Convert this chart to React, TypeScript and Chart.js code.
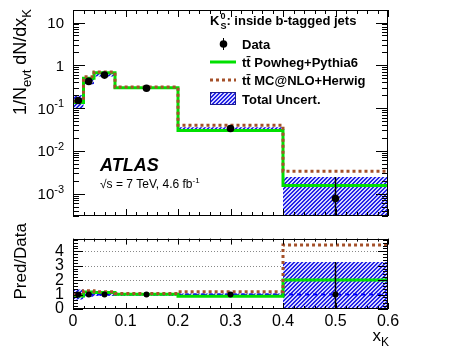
import React, { useEffect, useRef } from "react";
import { Chart, registerables } from "chart.js";

Chart.register(...registerables);

// ---------- data ----------
const edges = [0, 0.02, 0.04, 0.08, 0.2, 0.4, 0.6];
const dataX = [0.01, 0.03, 0.06, 0.14, 0.3, 0.5];
const dataY = [0.15, 0.42, 0.59, 0.29, 0.0333, 0.00077];
const dataErrLo = [0.13, 0.38, 0.56, 0.28, 0.031, 0.000001];
const dataErrHi = [0.17, 0.46, 0.62, 0.3, 0.036, 0.00246];
const uncertLo = [0.1, 0.36, 0.55, 0.28, 0.031, 0.000001];
const uncertHi = [0.2, 0.49, 0.63, 0.3, 0.0355, 0.00246];
const powheg = [0.135, 0.5, 0.67, 0.3, 0.03, 0.00155];
const mcnlo = [0.145, 0.54, 0.7, 0.31, 0.0398, 0.00335];

const ratioPowheg = [0.9, 1.17, 1.15, 1.02, 0.88, 2.01];
const ratioMcnlo = [0.98, 1.26, 1.2, 1.08, 1.2, 4.43];
const ratioUncLo = [0.65, 0.85, 0.92, 0.95, 0.93, 0];
const ratioUncHi = [1.35, 1.15, 1.08, 1.05, 1.07, 3.26];
const ratioData = [1, 1, 1, 1, 1, 1];
const ratioErrLo = [0.85, 0.9, 0.95, 0.97, 0.9, 0];
const ratioErrHi = [1.15, 1.1, 1.05, 1.03, 1.1, 3.26];

const logTickExps = [-3, -2, -1, 0, 1];
const ratioTicks = [0, 1, 2, 3, 4];

const FONT = '"Liberation Sans", Arial, Helvetica, sans-serif';
const GREEN = "#00e000";
const BROWN = "#a5512a";

// histogram step points: value of bin i held from edges[i] to edges[i+1]
const steps = (vals: number[]) =>
  edges.map((x, i) => ({ x, y: vals[Math.max(0, i - 1)] }));
const errPts = (xs: number[], lo: number[], hi: number[]) =>
  xs.flatMap((x, i) => [
    { x, y: lo[i] },
    { x, y: hi[i] },
    { x, y: null as any },
  ]);

// ---------- rich text ----------
type Part = { t: string; k?: "sub" | "sup" | "subsup"; t2?: string };
const fnt = (size: number, bold = false, italic = false) =>
  `${italic ? "italic " : ""}${bold ? "bold " : ""}${size}px ${FONT}`;

function richWidth(ctx: CanvasRenderingContext2D, parts: Part[], size: number, bold: boolean, italic: boolean) {
  let w = 0;
  const small = Math.round(size * 0.7);
  for (const p of parts) {
    if (!p.k) {
      ctx.font = fnt(size, bold, italic);
      w += ctx.measureText(p.t).width;
    } else if (p.k === "subsup") {
      ctx.font = fnt(small, bold, italic);
      w += Math.max(ctx.measureText(p.t).width, ctx.measureText(p.t2 || "").width) + 1;
    } else {
      ctx.font = fnt(small, bold, italic);
      w += ctx.measureText(p.t).width;
    }
  }
  return w;
}

function drawRich(
  ctx: CanvasRenderingContext2D,
  parts: Part[],
  x: number,
  y: number,
  size: number,
  align: "left" | "right" | "center" = "left",
  bold = false,
  italic = false
) {
  const w = richWidth(ctx, parts, size, bold, italic);
  let cx = align === "left" ? x : align === "right" ? x - w : x - w / 2;
  const small = Math.round(size * 0.7);
  ctx.textAlign = "left";
  ctx.textBaseline = "alphabetic";
  for (const p of parts) {
    if (!p.k) {
      ctx.font = fnt(size, bold, italic);
      ctx.fillText(p.t, cx, y);
      cx += ctx.measureText(p.t).width;
    } else if (p.k === "sub") {
      ctx.font = fnt(small, bold, italic);
      ctx.fillText(p.t, cx, y + size * 0.28);
      cx += ctx.measureText(p.t).width;
    } else if (p.k === "sup") {
      ctx.font = fnt(small, bold, italic);
      ctx.fillText(p.t, cx, y - size * 0.42);
      cx += ctx.measureText(p.t).width;
    } else {
      ctx.font = fnt(small, bold, italic);
      ctx.fillText(p.t, cx + 1, y + size * 0.3);
      ctx.fillText(p.t2 || "", cx + 1, y - size * 0.45);
      cx += Math.max(ctx.measureText(p.t).width, ctx.measureText(p.t2 || "").width) + 1;
    }
  }
}

function makePattern(): CanvasPattern | string {
  const c = document.createElement("canvas");
  c.width = 4;
  c.height = 4;
  const g = c.getContext("2d");
  if (!g) return "#7070f0";
  g.fillStyle = "#d4d4ff";
  g.fillRect(0, 0, 4, 4);
  g.fillStyle = "#2424e6";
  for (let i = 0; i < 4; i++) {
    g.fillRect((3 - i + 4) % 4, i, 1, 1);
    g.fillRect((4 - i + 4) % 4, i, 1, 1);
  }
  const ctx = document.createElement("canvas").getContext("2d")!;
  return ctx.createPattern(c, "repeat") || "#7070f0";
}

function drawXTicks(ctx: CanvasRenderingContext2D, chart: any, maj: number, min: number) {
  const a = chart.chartArea;
  const x = chart.scales.x;
  ctx.beginPath();
  for (let k = 0; k <= 30; k++) {
    const px = Math.round(x.getPixelForValue(k * 0.02)) + 0.5;
    const len = k % 5 === 0 ? maj : min;
    ctx.moveTo(px, a.bottom);
    ctx.lineTo(px, a.bottom - len);
    ctx.moveTo(px, a.top);
    ctx.lineTo(px, a.top + len);
  }
  ctx.stroke();
}

function drawFrame(ctx: CanvasRenderingContext2D, a: any) {
  ctx.strokeRect(Math.round(a.left) + 0.5, Math.round(a.top) + 0.5, Math.round(a.right - a.left) - 1, Math.round(a.bottom - a.top) - 1);
}

const upperDeco = {
  id: "upperDeco",
  afterDraw(chart: any) {
    const ctx: CanvasRenderingContext2D = chart.ctx;
    const a = chart.chartArea;
    const y = chart.scales.y;
    ctx.save();
    ctx.strokeStyle = "#000";
    ctx.fillStyle = "#000";
    ctx.lineWidth = 1;
    drawFrame(ctx, a);
    drawXTicks(ctx, chart, 7, 4);
    // log y ticks
    ctx.beginPath();
    for (let e = -4; e <= 1; e++) {
      for (let m = 1; m <= 9; m++) {
        const v = m * Math.pow(10, e);
        if (v < y.min || v > y.max) continue;
        const py = Math.round(y.getPixelForValue(v)) + 0.5;
        const len = m === 1 ? 12 : 6;
        ctx.moveTo(a.left, py);
        ctx.lineTo(a.left + len, py);
        ctx.moveTo(a.right, py);
        ctx.lineTo(a.right - len, py);
      }
    }
    ctx.stroke();
    // log labels
    for (const e of logTickExps) {
      const py = y.getPixelForValue(Math.pow(10, e));
      const parts: Part[] =
        e === 0 ? [{ t: "1" }] : e === 1 ? [{ t: "10" }] : [{ t: "10" }, { t: String(e), k: "sup" }];
      drawRich(ctx, parts, 64, py + 5.5, 15, "right");
    }
    // y title
    ctx.save();
    ctx.translate(26, 9);
    ctx.rotate(-Math.PI / 2);
    drawRich(ctx, [{ t: "1/N" }, { t: "evt", k: "sub" }, { t: " dN/dx" }, { t: "K", k: "sub" }], 0, 0, 18, "right");
    ctx.restore();
    // ATLAS label
    drawRich(ctx, [{ t: "ATLAS" }], 100, 171, 18, "left", true, true);
    drawRich(ctx, [{ t: "√s = 7 TeV, 4.6 fb" }, { t: "-1", k: "sup" }], 100, 188, 12, "left");
    // legend
    drawRich(ctx, [{ t: "K" }, { t: "S", k: "subsup", t2: "0" }, { t: ": inside b-tagged jets" }], 210, 25, 13, "left", true);
    const tx = 242;
    const rows = [44, 62, 80, 99];
    // Data
    ctx.beginPath();
    ctx.moveTo(223.5, rows[0] - 6);
    ctx.lineTo(223.5, rows[0] + 6);
    ctx.stroke();
    ctx.beginPath();
    ctx.arc(223.5, rows[0], 3.8, 0, Math.PI * 2);
    ctx.fill();
    drawRich(ctx, [{ t: "Data" }], tx, rows[0] + 4.5, 13, "left", true);
    // Powheg
    ctx.save();
    ctx.strokeStyle = GREEN;
    ctx.lineWidth = 3;
    ctx.beginPath();
    ctx.moveTo(210, rows[1]);
    ctx.lineTo(236, rows[1]);
    ctx.stroke();
    ctx.strokeStyle = BROWN;
    ctx.setLineDash([3, 3]);
    ctx.beginPath();
    ctx.moveTo(210, rows[2]);
    ctx.lineTo(236, rows[2]);
    ctx.stroke();
    ctx.restore();
    drawRich(ctx, [{ t: "tt\u0304 Powheg+Pythia6" }], tx, rows[1] + 4.5, 13, "left", true);
    drawRich(ctx, [{ t: "tt\u0304 MC@NLO+Herwig" }], tx, rows[2] + 4.5, 13, "left", true);
    // Total uncert
    ctx.fillStyle = chart.$pattern;
    ctx.fillRect(210, rows[3] - 7, 26, 13);
    ctx.strokeStyle = "#1a1a90";
    ctx.strokeRect(210.5, rows[3] - 6.5, 25, 12);
    ctx.fillStyle = "#000";
    drawRich(ctx, [{ t: "Total Uncert." }], tx, rows[3] + 4.5, 13, "left", true);
    ctx.restore();
  },
};

const lowerDeco = {
  id: "lowerDeco",
  beforeDatasetsDraw(chart: any) {
    const ctx: CanvasRenderingContext2D = chart.ctx;
    const a = chart.chartArea;
    const y = chart.scales.y;
    ctx.save();
    ctx.strokeStyle = "#888";
    ctx.lineWidth = 1;
    ctx.setLineDash([1, 2]);
    ctx.beginPath();
    for (const v of ratioTicks) {
      if (v === 0) continue;
      const py = Math.round(y.getPixelForValue(v)) + 0.5;
      ctx.moveTo(a.left, py);
      ctx.lineTo(a.right, py);
    }
    ctx.stroke();
    ctx.restore();
  },
  afterDraw(chart: any) {
    const ctx: CanvasRenderingContext2D = chart.ctx;
    const a = chart.chartArea;
    const y = chart.scales.y;
    ctx.save();
    ctx.strokeStyle = "#000";
    ctx.fillStyle = "#000";
    ctx.lineWidth = 1;
    drawFrame(ctx, a);
    drawXTicks(ctx, chart, 6, 3);
    ctx.beginPath();
    for (let k = 0; k <= 24; k++) {
      const v = k * 0.2;
      if (v > y.max) continue;
      const py = Math.round(y.getPixelForValue(v)) + 0.5;
      const len = k % 5 === 0 ? 10 : 5;
      ctx.moveTo(a.left, py);
      ctx.lineTo(a.left + len, py);
      ctx.moveTo(a.right, py);
      ctx.lineTo(a.right - len, py);
    }
    ctx.stroke();
    // titles
    ctx.save();
    ctx.translate(26, 3);
    ctx.rotate(-Math.PI / 2);
    drawRich(ctx, [{ t: "Pred/Data" }], 0, 0, 17, "right");
    ctx.restore();
    drawRich(ctx, [{ t: "x" }, { t: "K", k: "sub" }], a.right + 1, 121, 17, "right");
    ctx.restore();
  },
};

function commonDatasets(pattern: any, hi: number[], lo: number[], p: number[], m: number[], eLo: number[], eHi: number[], yv: number[], ptR: number, extra: any[]) {
  return [
    { data: steps(hi), stepped: "after", borderWidth: 0, pointRadius: 0, fill: false, order: 6, borderColor: "rgba(0,0,0,0)" },
    { data: steps(lo), stepped: "after", borderWidth: 0, pointRadius: 0, fill: "-1", backgroundColor: pattern, order: 6, borderColor: "rgba(0,0,0,0)" },
    ...extra,
    { data: steps(p), stepped: "after", borderColor: GREEN, borderWidth: 3, pointRadius: 0, fill: false, order: 4 },
    { data: steps(m), stepped: "after", borderColor: BROWN, borderWidth: 3, borderDash: [3, 3], pointRadius: 0, fill: false, order: 3 },
    { data: errPts(dataX, eLo, eHi), borderColor: "#000", borderWidth: 1.5, pointRadius: 0, spanGaps: false, fill: false, order: 2 },
    { data: dataX.map((x, i) => ({ x, y: yv[i] })), showLine: false, pointRadius: ptR, pointBackgroundColor: "#000", pointBorderWidth: 0, order: 1 },
  ];
}

export default function App() {
  const upRef = useRef<HTMLCanvasElement>(null);
  const loRef = useRef<HTMLCanvasElement>(null);

  useEffect(() => {
    const pattern = makePattern();
    const base = {
      animation: false,
      responsive: false,
      devicePixelRatio: 1,
      events: [],
      plugins: { legend: { display: false }, tooltip: { enabled: false } },
    };
    const up = new Chart(upRef.current!, {
      type: "line",
      data: {
        datasets: commonDatasets(pattern, uncertHi, uncertLo, powheg, mcnlo, dataErrLo, dataErrHi, dataY, 3.8, []) as any,
      },
      options: {
        ...base,
        layout: { padding: { top: 10, right: 68, bottom: 3, left: 0 } },
        scales: {
          x: { type: "linear", min: 0, max: 0.6, display: false },
          y: {
            type: "logarithmic",
            min: 0.00033,
            max: 19.6,
            grid: { display: false },
            border: { display: false },
            ticks: { display: false },
            afterFit: (s: any) => {
              s.width = 73;
            },
          },
        },
      } as any,
      plugins: [upperDeco],
    });
    (up as any).$pattern = pattern;
    up.draw();

    const lo = new Chart(loRef.current!, {
      type: "line",
      data: {
        datasets: commonDatasets(pattern, ratioUncHi, ratioUncLo, ratioPowheg, ratioMcnlo, ratioErrLo, ratioErrHi, ratioData, 3, [
          { data: steps(ratioData), stepped: "after", borderColor: "#0000ff", borderWidth: 2, borderDash: [4, 4], pointRadius: 0, fill: false, order: 5 },
        ]) as any,
      },
      options: {
        ...base,
        layout: { padding: { top: 2, right: 68, bottom: 0, left: 0 } },
        scales: {
          x: {
            type: "linear",
            min: 0,
            max: 0.6,
            grid: { display: false, drawTicks: false },
            border: { display: false },
            ticks: { stepSize: 0.1, autoSkip: false, font: { size: 16, family: FONT }, color: "#000", padding: 3, maxRotation: 0 },
            afterFit: (s: any) => {
              s.height = 45;
            },
          },
          y: {
            type: "linear",
            min: 0,
            max: 4.88,
            grid: { display: false, drawTicks: false },
            border: { display: false },
            ticks: { stepSize: 1, autoSkip: false, includeBounds: false, font: { size: 16, family: FONT }, color: "#000", padding: 9 },
            afterFit: (s: any) => {
              s.width = 73;
            },
          },
        },
      } as any,
      plugins: [lowerDeco],
    });

    return () => {
      up.destroy();
      lo.destroy();
    };
  }, []);

  return (
    <div style={{ position: "absolute", left: 0, top: 0, width: 456, height: 354, background: "#fff" }}>
      <canvas ref={upRef} width={456} height={220} style={{ position: "absolute", left: 0, top: 0, display: "block" }} />
      <canvas ref={loRef} width={456} height={134} style={{ position: "absolute", left: 0, top: 220, display: "block" }} />
    </div>
  );
}
